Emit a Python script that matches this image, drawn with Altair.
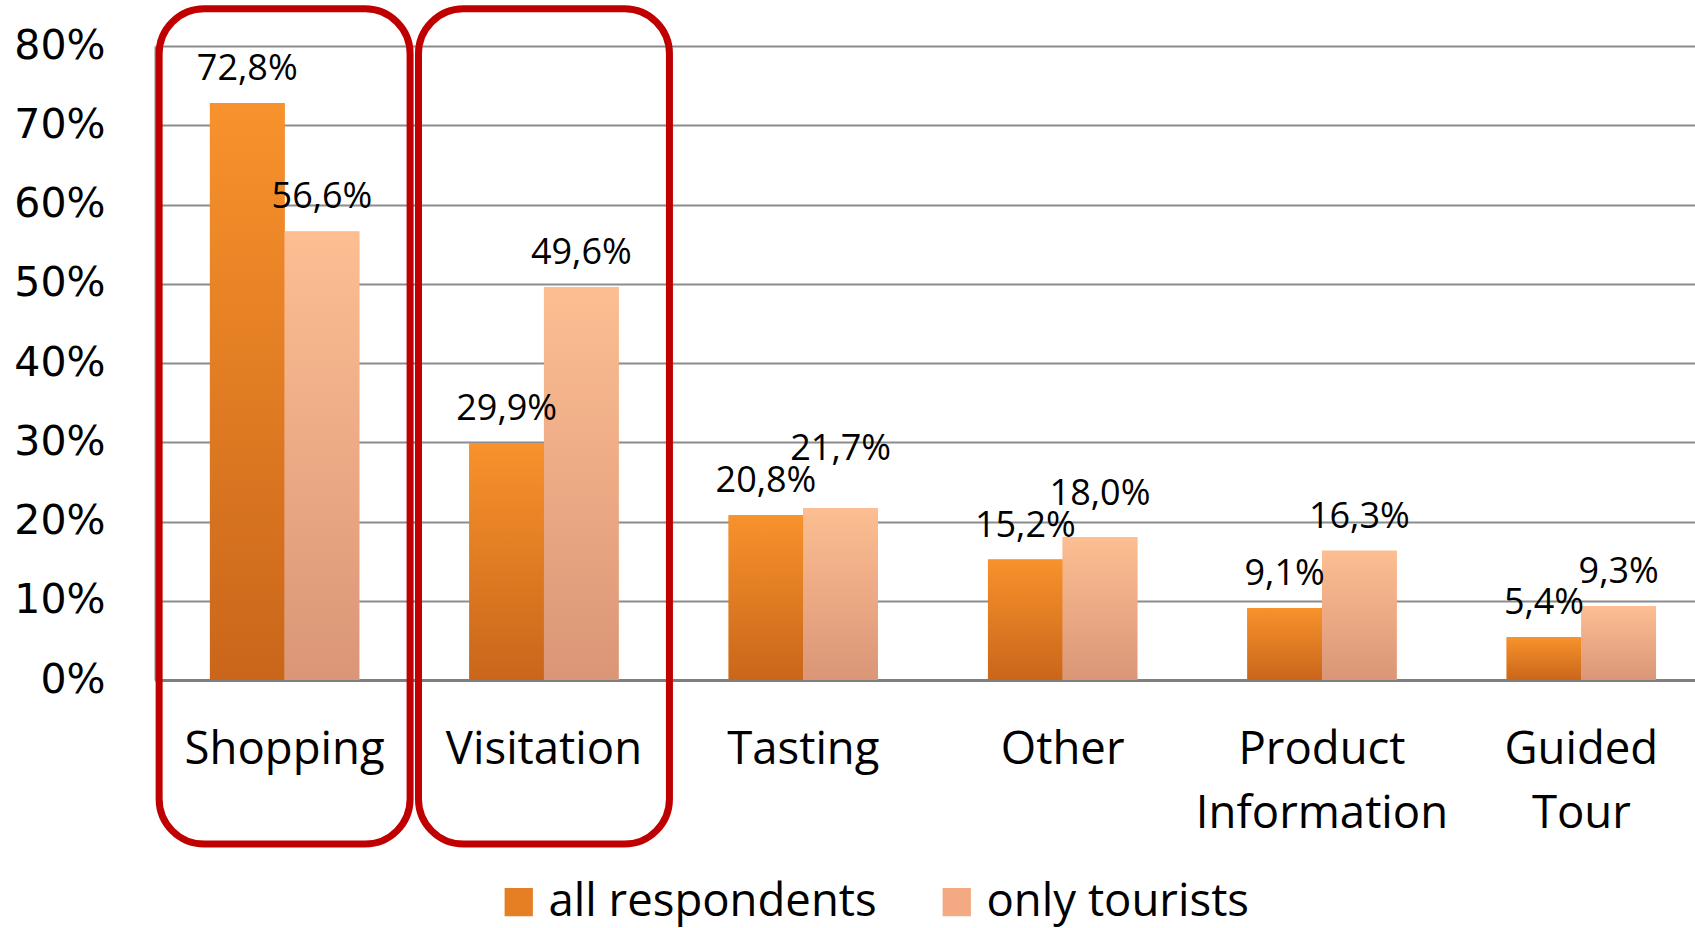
import altair as alt
import pandas as pd

categories = ["Shopping", "Visitation", "Tasting", "Other", "Product Information", "Guided Tour"]
series = ["all respondents", "only tourists"]
all_respondents = [72.8, 29.9, 20.8, 15.2, 9.1, 5.4]
only_tourists = [56.6, 49.6, 21.7, 18.0, 16.3, 9.3]
y_ticks = [0, 10, 20, 30, 40, 50, 60, 70, 80]
highlighted = ["Shopping", "Visitation"]

MIN_LABEL_GAP = 4.0  # in value units: neighbouring labels closer than this get pushed up

rows = []
for c, a, t in zip(categories, all_respondents, only_tourists):
    t_label = t
    if abs(t - a) < MIN_LABEL_GAP:
        t_label = max(t, a + MIN_LABEL_GAP)
    rows.append({"category": c, "series": series[0], "value": a, "label_pos": a})
    rows.append({"category": c, "series": series[1], "value": t, "label_pos": t_label})
df = pd.DataFrame(rows)
df["label"] = df["value"].map(lambda v: f"{v:.1f}%".replace(".", ","))

x_enc = alt.X(
    "category:N",
    sort=categories,
    scale=alt.Scale(paddingInner=0.424, paddingOuter=0.181, align=0.585),
    axis=alt.Axis(
        title=None,
        labelAngle=0,
        labelFont="Open Sans",
        labelFontSize=45.5,
        labelColor="black",
        labelExpr="split(datum.label, ' ')",
        labelLineHeight=64,
        labelBaseline="top",
        labelPadding=47,
        labelLimit=0,
        domainColor="#7f7f7f",
        domainWidth=3,
        ticks=False,
        grid=False,
    ),
)
y_enc = alt.Y(
    "value:Q",
    scale=alt.Scale(domain=[0, 80], nice=False),
    axis=alt.Axis(
        title=None,
        values=y_ticks,
        labelExpr="datum.value + '%'",
        labelFont="DejaVu Sans",
        labelFontSize=41,
        labelColor="black",
        labelPadding=50,
        ticks=False,
        grid=True,
        gridColor="#8c8c8c",
        gridWidth=2,
        domainColor="#8c8c8c",
        domainWidth=2,
    ),
)
xoff = alt.XOffset("series:N", sort=series)

base = alt.Chart(df)

bars = base.mark_bar().encode(
    x=x_enc,
    xOffset=xoff,
    y=y_enc,
    color=alt.Color(
        "series:N",
        sort=series,
        scale=alt.Scale(domain=series, range=["#E67F24", "#F3A981"]),
        legend=alt.Legend(
            title=None,
            orient="none",
            direction="horizontal",
            legendX=341,
            legendY=833,
            symbolType="square",
            symbolSize=800,
            symbolStrokeWidth=0,
            labelFont="Open Sans",
            labelFontSize=45.5,
            labelColor="black",
            labelOffset=7,
            labelLimit=0,
            columnPadding=57,
        ),
    ),
)

grad_orange = alt.Gradient(
    gradient="linear",
    stops=[alt.GradientStop(color="#F8922C", offset=0), alt.GradientStop(color="#C9661A", offset=1)],
    x1=0, x2=0, y1=0, y2=1,
)
grad_light = alt.Gradient(
    gradient="linear",
    stops=[alt.GradientStop(color="#FDBE92", offset=0), alt.GradientStop(color="#DA9677", offset=1)],
    x1=0, x2=0, y1=0, y2=1,
)

bars_grad = base.mark_bar().encode(
    x=alt.X("category:N", sort=categories),
    xOffset=xoff,
    y=alt.Y("value:Q"),
    color=alt.condition(alt.datum.series == series[0], alt.value(grad_orange), alt.value(grad_light)),
)

labels = base.mark_text(dy=-34, font="Open Sans", fontSize=36, color="black", baseline="middle").encode(
    x=alt.X("category:N", sort=categories),
    xOffset=xoff,
    y=alt.Y("label_pos:Q"),
    text="label:N",
)

boxes = alt.Chart(pd.DataFrame({"category": highlighted})).mark_rect(
    filled=False,
    stroke="#C00000",
    strokeWidth=7,
    cornerRadius=45,
    width=alt.RelativeBandSize(band=1.68),
).encode(
    x=alt.X("category:N", sort=categories),
    y=alt.datum(84.7),
    y2=alt.datum(-20.7),
)

chart = alt.layer(bars, bars_grad, labels, boxes).properties(
    width=1540,
    height=634,
    autosize=alt.AutoSizeParams(type="none"),
    padding={"left": 155, "top": 46, "right": 0, "bottom": 248},
    background="white",
).configure_view(stroke=None)

chart.save("out.html", embed_options={"renderer": "svg", "actions": False})
